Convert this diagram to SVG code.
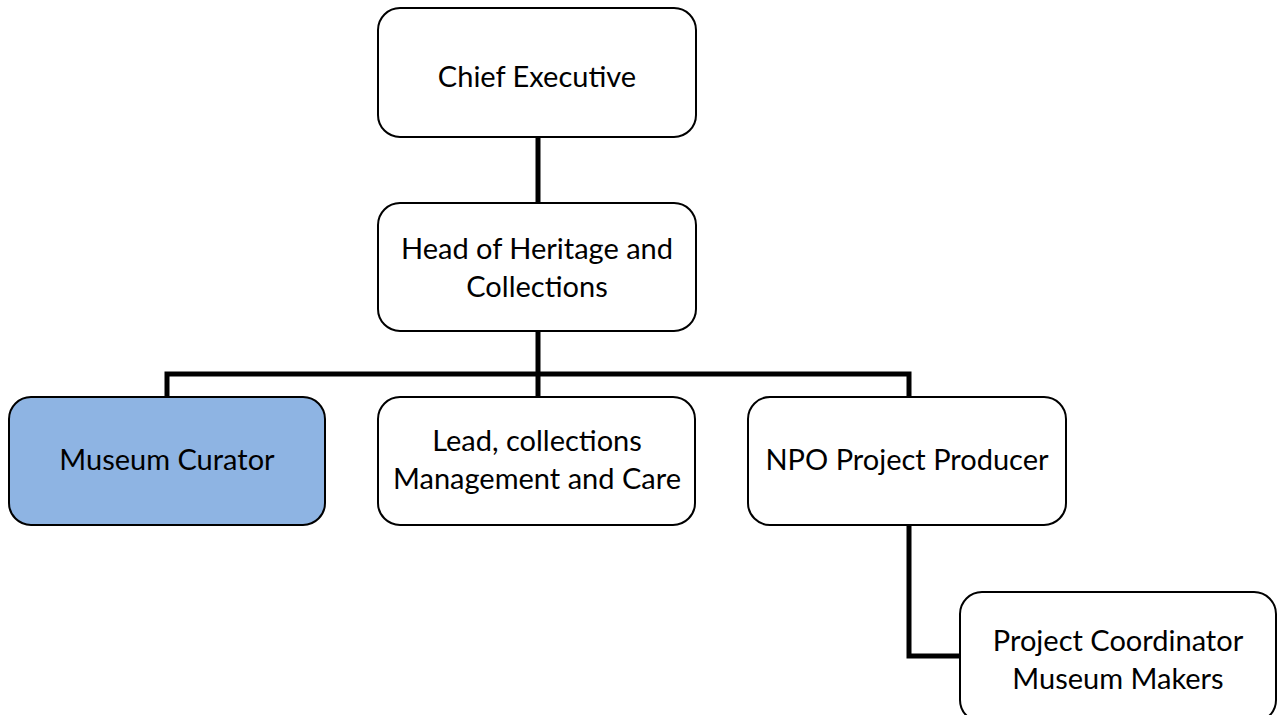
<svg xmlns="http://www.w3.org/2000/svg" width="1279" height="715" viewBox="0 0 1279 715">
<style>
.box{fill:#fff;stroke:#000;stroke-width:2}
.sel{fill:#8EB4E3}
.t{font-family:Lato,"Open Sans",sans-serif;font-size:29px;fill:#000;text-anchor:middle;dominant-baseline:central}
.c{fill:none;stroke:#000;stroke-width:5}
</style>
<rect width="1279" height="715" fill="#fff"/>
<g id="connectors">
<line class="c" x1="538" y1="137" x2="538" y2="203"/>
<line class="c" x1="538" y1="331" x2="538" y2="397"/>
<polyline class="c" points="167,397 167,374 909,374 909,397"/>
<polyline class="c" points="909,525 909,656 960,656"/>
</g>
<g id="chief"><rect class="box" x="378" y="8" width="318" height="129" rx="22"/><text class="t" x="537" y="75">Chief Executive</text></g>
<g id="head"><rect class="box" x="378" y="203" width="318" height="128" rx="22"/><text class="t" x="537" y="247">Head of Heritage and</text><text class="t" x="537" y="285">Collections</text></g>
<g id="curator"><rect class="box sel" x="9" y="397" width="316" height="128" rx="22"/><text class="t" x="167" y="458">Museum Curator</text></g>
<g id="lead"><rect class="box" x="378" y="397" width="317" height="128" rx="22"/><text class="t" x="537" y="439">Lead, collections</text><text class="t" x="537" y="477">Management and Care</text></g>
<g id="npo"><rect class="box" x="748" y="397" width="318" height="128" rx="22"/><text class="t" x="907" y="458">NPO Project Producer</text></g>
<g id="coord"><rect class="box" x="960" y="592" width="316" height="130" rx="22"/><text class="t" x="1118" y="639">Project Coordinator</text><text class="t" x="1118" y="677">Museum Makers</text></g>
</svg>
